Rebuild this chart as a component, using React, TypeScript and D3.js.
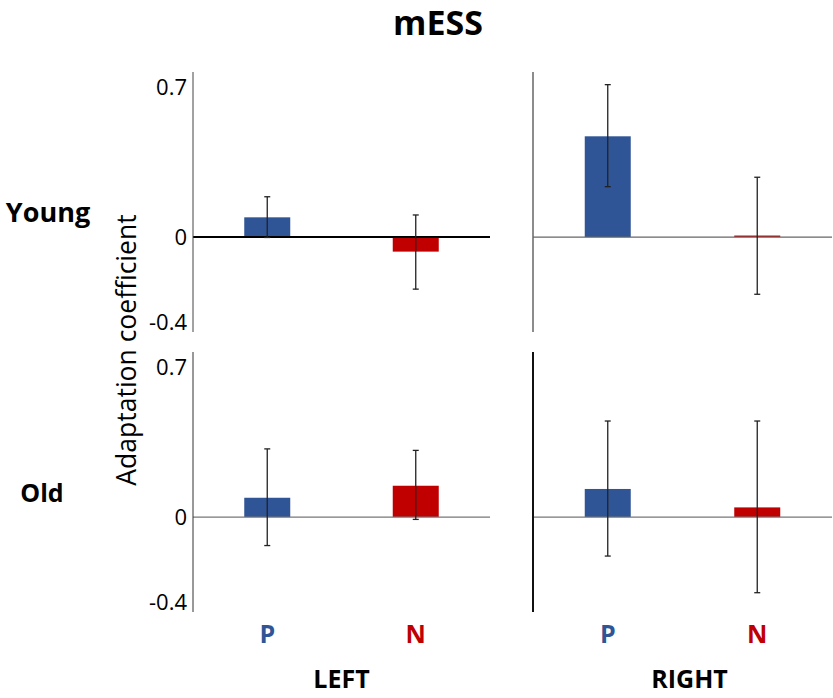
import React from "react";
import * as d3 from "d3";

// conditions and groups
const conditions = ["P", "N"];
const hemispheres = ["LEFT", "RIGHT"];
const groups = ["Young", "Old"];
const yTicks = [0.7, 0, -0.4];

// mean adaptation coefficient, [hemisphere][condition], one array per group
const youngMeans = [[0.092, -0.068], [0.47, 0.005]];
const youngErrHi = [[0.188, 0.103], [0.711, 0.279]];
const youngErrLo = [[-0.002, -0.243], [0.235, -0.267]];
const oldMeans = [[0.09, 0.146], [0.131, 0.045]];
const oldErrHi = [[0.318, 0.311], [0.448, 0.448]];
const oldErrLo = [[-0.133, -0.011], [-0.182, -0.353]];

const means = [youngMeans, oldMeans];
const errHi = [youngErrHi, oldErrHi];
const errLo = [youngErrLo, oldErrLo];

const colors: Record<string, string> = { P: "#2f5597", N: "#c00000" };
const font = "'Open Sans', 'Noto Sans', sans-serif";

const W = 833;
const H = 698;
const panelX = [
  [193, 490],
  [533, 832],
];
const rowTop = [72, 352];
const rowH = 260;
const barW = 46;

// per-panel axis/zero line styling to follow the original
const axisStyle = [
  [{ c: "#444", w: 1 }, { c: "#666", w: 1.5 }],
  [{ c: "#333", w: 1 }, { c: "#111", w: 2 }],
];
const zeroStyle = [
  [{ c: "#000", w: 2 }, { c: "#666", w: 1.2 }],
  [{ c: "#777", w: 1.2 }, { c: "#777", w: 1.2 }],
];

export default function App() {
  return (
    <svg width={W} height={H} style={{ display: "block", position: "absolute", left: 0, top: 0, background: "#fff" }}>
      <text x={438} y={35} textAnchor="middle" fontFamily={font} fontWeight="bold" fontSize={34}>
        mESS
      </text>
      <text
        transform="translate(136,350) rotate(-90)"
        textAnchor="middle"
        fontFamily={font}
        fontSize={26.5}
      >
        Adaptation coefficient
      </text>
      {groups.map((g, gi) => {
        const y = d3.scaleLinear().domain([-0.443, 0.77]).range([rowTop[gi] + rowH, rowTop[gi]]);
        return (
          <g key={g}>
            <text
              x={gi === 0 ? 48 : 42}
              y={y(0.11) + 9}
              textAnchor="middle"
              fontFamily={font}
              fontWeight="bold"
              fontSize={gi === 0 ? 27 : 25}
            >
              {g}
            </text>
            {yTicks.map((t) => (
              <text
                key={t}
                x={187}
                y={y(t)}
                dy="0.35em"
                textAnchor="end"
                fontFamily={font}
                fontSize={22}
              >
                {t === 0 ? "0" : t}
              </text>
            ))}
            {hemispheres.map((h, hi) => {
              const x = d3.scalePoint().domain(conditions).range(panelX[hi]).padding(0.5);
              const ax = axisStyle[gi][hi];
              const zs = zeroStyle[gi][hi];
              return (
                <g key={h}>
                  {conditions.map((c, ci) => {
                    const m = means[gi][hi][ci];
                    const cx = x(c)!;
                    const hgt = Math.max(1.5, Math.abs(y(m) - y(0)));
                    return (
                      <rect
                        key={c}
                        x={cx - barW / 2}
                        y={m >= 0 ? y(0) - hgt : y(0)}
                        width={barW}
                        height={hgt}
                        fill={colors[c]}
                      />
                    );
                  })}
                  <line x1={panelX[hi][0]} x2={panelX[hi][1]} y1={y(0)} y2={y(0)} stroke={zs.c} strokeWidth={zs.w} />
                  <line x1={panelX[hi][0]} x2={panelX[hi][0]} y1={rowTop[gi]} y2={rowTop[gi] + rowH} stroke={ax.c} strokeWidth={ax.w} />
                  {conditions.map((c, ci) => {
                    const cx = x(c)!;
                    const hiY = y(errHi[gi][hi][ci]);
                    const loY = y(errLo[gi][hi][ci]);
                    return (
                      <g key={c} stroke="#222" strokeWidth={1.3}>
                        <line x1={cx} x2={cx} y1={hiY} y2={loY} />
                        <line x1={cx - 3} x2={cx + 3} y1={hiY} y2={hiY} />
                        <line x1={cx - 3} x2={cx + 3} y1={loY} y2={loY} />
                      </g>
                    );
                  })}
                  {gi === 1 &&
                    conditions.map((c) => (
                      <text
                        key={c}
                        x={x(c)!}
                        y={643}
                        textAnchor="middle"
                        fontFamily={font}
                        fontWeight="bold"
                        fontSize={25}
                        fill={colors[c]}
                      >
                        {c}
                      </text>
                    ))}
                  {gi === 1 && (
                    <text
                      x={(panelX[hi][0] + panelX[hi][1]) / 2 + (hi === 0 ? 0 : 7)}
                      y={688}
                      textAnchor="middle"
                      fontFamily={font}
                      fontWeight="bold"
                      fontSize={25}
                    >
                      {h}
                    </text>
                  )}
                </g>
              );
            })}
          </g>
        );
      })}
    </svg>
  );
}
